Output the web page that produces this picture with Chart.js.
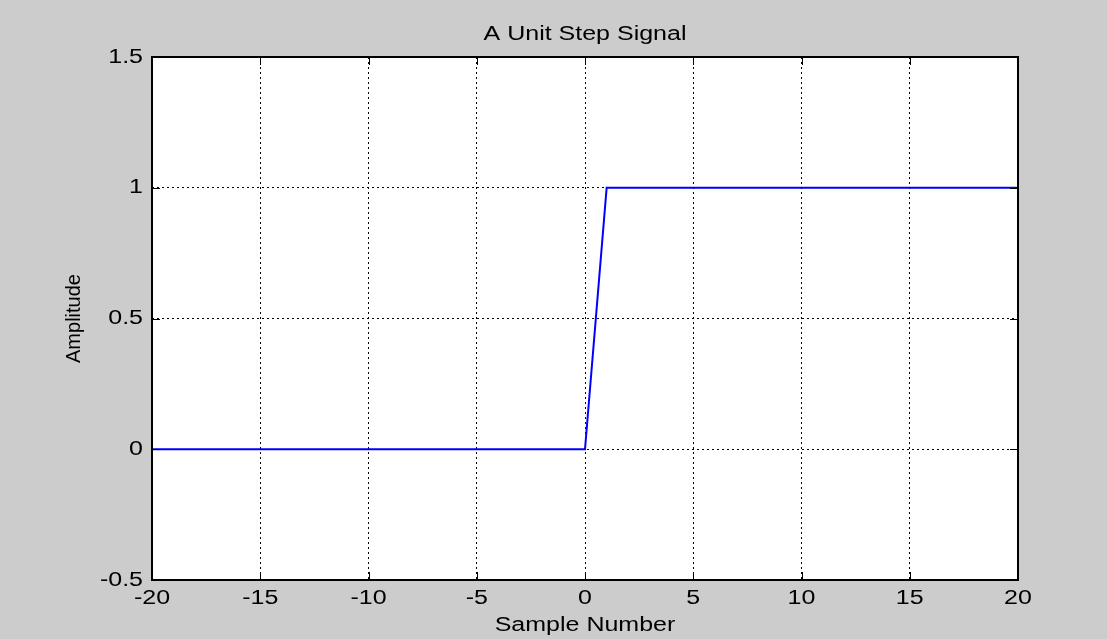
<!DOCTYPE html>
<html>
<head>
<meta charset="utf-8">
<script src="https://cdn.jsdelivr.net/npm/chart.js@4/dist/chart.umd.min.js"></script>
<style>
  html, body { margin: 0; padding: 0; background: #cccccc; }
  canvas { display: block; }
</style>
</head>
<body>
<canvas id="stepChart" width="1107" height="639"></canvas>
<script>
// samples n = -20 .. 20 and the unit step u[n-1] plotted against them
const sampleNumbers = [-20, -19, -18, -17, -16, -15, -14, -13, -12, -11, -10, -9, -8, -7, -6, -5, -4, -3, -2, -1,
  0, 1, 2, 3, 4, 5, 6, 7, 8, 9, 10, 11, 12, 13, 14, 15, 16, 17, 18, 19, 20];
const amplitudes = [0, 0, 0, 0, 0, 0, 0, 0, 0, 0, 0, 0, 0, 0, 0, 0, 0, 0, 0, 0,
  0, 1, 1, 1, 1, 1, 1, 1, 1, 1, 1, 1, 1, 1, 1, 1, 1, 1, 1, 1, 1];
const xTicks = [-20, -15, -10, -5, 0, 5, 10, 15, 20];
const yTicks = [-0.5, 0, 0.5, 1, 1.5];

const chartTitle = "A Unit Step Signal";
const xTitle = "Sample Number";
const yTitle = "Amplitude";

const FONT = '20px "Liberation Sans", Arial, sans-serif';
const STRETCH = 1.25;

// horizontal text is drawn a little wide, like the old figure export
function wideText(ctx, text, x, y, align, baseline, rotate) {
  ctx.save();
  ctx.translate(x, y);
  if (rotate) {
    ctx.rotate(rotate);
  } else {
    ctx.scale(STRETCH, 1);
  }
  ctx.font = FONT;
  ctx.fillStyle = "#000";
  ctx.textAlign = align;
  ctx.textBaseline = baseline;
  ctx.fillText(text, 0, 0);
  ctx.restore();
}

const axesBox = {
  id: "axesBox",
  beforeDraw(chart) {
    const { ctx, chartArea: a } = chart;
    ctx.save();
    ctx.fillStyle = "#ffffff";
    ctx.fillRect(a.left, a.top, a.right - a.left, a.bottom - a.top);
    ctx.restore();
  },
  afterDraw(chart) {
    const { ctx, chartArea: a, scales } = chart;
    const tickLen = 8;
    ctx.save();
    ctx.strokeStyle = "#000";
    ctx.lineWidth = 1;
    ctx.beginPath();
    xTicks.forEach((v) => {
      const px = Math.round(scales.x.getPixelForValue(v)) + 0.5;
      ctx.moveTo(px, a.bottom); ctx.lineTo(px, a.bottom - tickLen);
      ctx.moveTo(px, a.top); ctx.lineTo(px, a.top + tickLen);
    });
    yTicks.forEach((v) => {
      const py = Math.round(scales.y.getPixelForValue(v)) + 0.5;
      ctx.moveTo(a.left, py); ctx.lineTo(a.left + tickLen, py);
      ctx.moveTo(a.right, py); ctx.lineTo(a.right - tickLen, py);
    });
    ctx.stroke();
    ctx.lineWidth = 2;
    ctx.strokeRect(a.left, a.top, a.right - a.left, a.bottom - a.top);
    ctx.restore();

    xTicks.forEach((v) => {
      wideText(ctx, String(v), scales.x.getPixelForValue(v), a.bottom + 18, "center", "middle");
    });
    yTicks.forEach((v) => {
      wideText(ctx, String(v), a.left - 9, scales.y.getPixelForValue(v), "right", "middle");
    });

    const cx = (a.left + a.right) / 2;
    const cy = (a.top + a.bottom) / 2;
    wideText(ctx, chartTitle, cx, 34, "center", "middle");
    wideText(ctx, xTitle, cx, 625, "center", "middle");
    wideText(ctx, yTitle, 74, cy, "center", "middle", -Math.PI / 2);
  }
};

new Chart(document.getElementById("stepChart"), {
  type: "line",
  data: {
    labels: sampleNumbers,
    datasets: [{
      data: sampleNumbers.map((n, i) => ({ x: n, y: amplitudes[i] })),
      borderColor: "#0000ff",
      borderWidth: 2,
      pointRadius: 0,
      tension: 0,
      fill: false
    }]
  },
  options: {
    responsive: false,
    animation: false,
    devicePixelRatio: 1,
    layout: { padding: { top: 57, right: 89, left: 0, bottom: 0 } },
    plugins: {
      legend: { display: false },
      title: { display: false },
      tooltip: { enabled: false }
    },
    scales: {
      x: {
        type: "linear",
        min: -20,
        max: 20,
        ticks: { stepSize: 5, display: false },
        grid: { color: "#000", lineWidth: 1, drawTicks: false },
        border: { display: false, dash: [2, 3] },
        afterFit(scale) { scale.height = 59; }
      },
      y: {
        min: -0.5,
        max: 1.5,
        ticks: { stepSize: 0.5, display: false },
        grid: { color: "#000", lineWidth: 1, drawTicks: false },
        border: { display: false, dash: [2, 3] },
        afterFit(scale) { scale.width = 152; }
      }
    }
  },
  plugins: [axesBox]
});
</script>
</body>
</html>
